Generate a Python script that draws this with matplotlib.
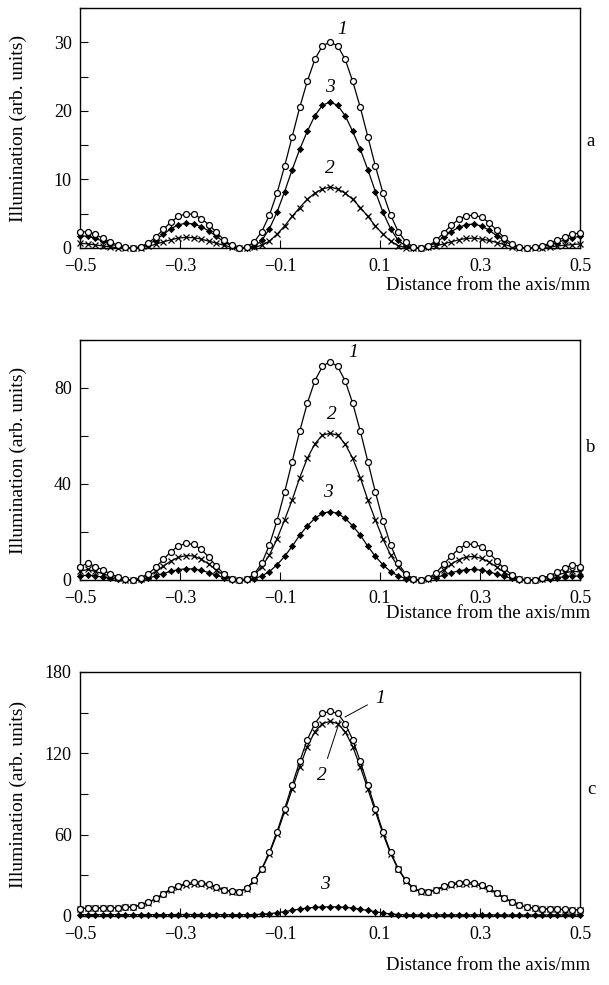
"""Script to plot the illumination profiles across the beam (panels a, b, c)."""

import matplotlib
matplotlib.use("Agg")
import matplotlib.pyplot as plt
import numpy as np
from matplotlib.ticker import MultipleLocator

# Sampling positions across the beam (mm), 67 equally spaced points.
DISTANCE = np.linspace(-0.5, 0.5, 67)

X_TICKS = [-0.5, -0.3, -0.1, 0.1, 0.3, 0.5]

# Panel a.
A_CURVE_1 = [2.3, 2.4, 2.0, 1.4, 0.9, 0.4, 0.1, 0.0, 0.2, 0.7, 1.6, 2.7, 3.8, 4.6, 5.0, 4.9, 4.3,
             3.4, 2.3, 1.2, 0.4, 0.0, 0.15, 0.9, 2.4, 4.8, 8.0, 11.9, 16.2, 20.5, 24.3, 27.5, 29.5,
             30.0, 29.5, 27.5, 24.3, 20.5, 16.2, 11.9, 8.0, 4.8, 2.4, 0.9, 0.15, 0.0, 0.3, 1.1, 2.2,
             3.3, 4.2, 4.7, 4.8, 4.5, 3.7, 2.6, 1.5, 0.6, 0.15, 0.0, 0.1, 0.3, 0.7, 1.1, 1.6, 2.0, 2.2]
A_CURVE_2 = [0.7, 0.6, 0.45, 0.3, 0.15, 0.05, 0.0, 0.0, 0.05, 0.25, 0.55, 0.9, 1.2, 1.45, 1.55, 1.5,
             1.3, 1.0, 0.7, 0.4, 0.1, 0.0, 0.0, 0.1, 0.4, 1.0, 2.0, 3.2, 4.6, 5.9, 7.1, 8.0, 8.6,
             8.9, 8.6, 8.0, 7.1, 5.9, 4.6, 3.2, 2.0, 1.0, 0.35, 0.05, 0.0, 0.0, 0.1, 0.3, 0.6, 0.9,
             1.2, 1.4, 1.45, 1.3, 1.1, 0.8, 0.5, 0.2, 0.05, 0.0, 0.0, 0.05, 0.15, 0.3, 0.4, 0.5, 0.6]
A_CURVE_3 = [1.8, 1.7, 1.4, 1.0, 0.6, 0.3, 0.1, 0.0, 0.1, 0.5, 1.2, 2.0, 2.8, 3.4, 3.6, 3.5, 3.1,
             2.5, 1.7, 0.9, 0.3, 0.0, 0.0, 0.3, 1.1, 2.8, 5.2, 8.2, 11.4, 14.4, 17.0, 19.3, 20.8,
             21.3, 20.8, 19.3, 17.0, 14.4, 11.4, 8.2, 5.2, 2.8, 1.1, 0.3, 0.0, 0.0, 0.2, 0.8, 1.6,
             2.4, 3.0, 3.4, 3.5, 3.2, 2.6, 1.8, 1.1, 0.4, 0.1, 0.0, 0.1, 0.2, 0.5, 0.8, 1.2, 1.5, 1.7]

# Panel b.
B_CURVE_1 = [5.5, 7.0, 5.6, 4.2, 2.6, 1.2, 0.3, 0.0, 0.8, 2.6, 5.3, 8.6, 11.8, 14.2, 15.3, 14.8,
             12.8, 9.5, 5.8, 2.5, 0.6, 0.0, 0.4, 2.5, 7.0, 14.6, 24.6, 36.5, 49.3, 62.0, 73.6, 83.0,
             89.0, 91.0, 89.0, 83.0, 73.6, 62.0, 49.3, 36.5, 24.6, 14.6, 7.0, 2.5, 0.4, 0.0, 0.8,
             3.0, 6.5, 10.0, 13.0, 14.8, 15.0, 13.8, 11.3, 8.0, 4.8, 2.2, 0.6, 0.0, 0.2, 0.8, 1.8,
             3.2, 5.0, 6.4, 5.6]
B_CURVE_2 = [3.6, 4.4, 3.6, 2.6, 1.6, 0.8, 0.2, 0.0, 0.5, 1.7, 3.6, 5.8, 7.9, 9.4, 10.2, 10.0, 8.7,
             6.6, 4.2, 1.9, 0.4, 0.0, 0.4, 2.0, 5.6, 10.4, 17.0, 25.0, 33.3, 42.6, 50.7, 56.7, 60.4,
             61.1, 60.4, 56.7, 50.7, 42.6, 33.3, 25.0, 17.0, 10.4, 5.6, 2.0, 0.4, 0.0, 0.6, 2.0,
             4.3, 6.6, 8.5, 9.6, 9.8, 9.0, 7.5, 5.4, 3.2, 1.5, 0.4, 0.0, 0.1, 0.5, 1.2, 2.0, 3.0,
             3.6, 3.4]
B_CURVE_3 = [1.7, 2.0, 1.7, 1.2, 0.7, 0.3, 0.1, 0.0, 0.2, 0.8, 1.7, 2.7, 3.6, 4.3, 4.7, 4.6, 4.0,
             3.1, 2.0, 0.9, 0.2, 0.0, 0.1, 0.6, 1.7, 3.5, 6.3, 9.8, 14.0, 18.7, 22.5, 25.7, 27.8,
             28.5, 27.8, 25.7, 22.5, 18.7, 14.0, 9.8, 6.3, 3.5, 1.7, 0.6, 0.1, 0.0, 0.3, 1.0, 2.0,
             3.0, 3.8, 4.3, 4.4, 4.1, 3.4, 2.5, 1.5, 0.7, 0.2, 0.0, 0.1, 0.3, 0.6, 1.0, 1.4, 1.7, 1.6]

# Panel c.
C_CURVE_1 = [5.5, 5.8, 6.0, 6.0, 6.0, 6.2, 6.5, 7.0, 8.0, 10.0, 13.0, 16.5, 20.0, 22.5, 24.0, 24.8,
             24.7, 23.5, 21.5, 19.5, 18.2, 18.0, 20.5, 26.5, 35.0, 47.0, 62.0, 79.0, 96.5, 114.0,
             130.0, 142.0, 149.5, 151.0, 149.5, 142.0, 130.0, 114.0, 96.5, 79.0, 62.0, 47.0, 35.0,
             26.5, 20.5, 18.2, 18.0, 19.5, 22.0, 23.8, 24.7, 24.9, 24.5, 23.0, 20.5, 17.0, 13.5,
             10.5, 8.0, 6.5, 5.8, 5.4, 5.2, 5.0, 4.8, 4.6, 4.5]
C_CURVE_2 = [5.4, 5.7, 5.9, 5.9, 5.9, 6.1, 6.4, 6.9, 7.8, 9.7, 12.6, 15.9, 19.3, 21.6, 23.0, 23.7,
             23.6, 22.5, 20.7, 19.0, 18.0, 17.8, 20.2, 26.0, 34.5, 46.0, 60.5, 77.0, 93.5, 110.0,
             125.0, 136.0, 142.0, 143.5, 142.0, 136.0, 125.0, 110.0, 93.5, 77.0, 60.5, 46.0, 34.5,
             26.0, 20.3, 18.0, 17.8, 19.0, 21.2, 22.8, 23.6, 23.8, 23.4, 22.0, 19.8, 16.6, 13.2,
             10.3, 7.9, 6.4, 5.7, 5.3, 5.1, 4.9, 4.7, 4.5, 4.4]
C_CURVE_3 = [1.0, 1.0, 1.0, 1.0, 1.0, 1.0, 1.0, 1.0, 1.0, 1.0, 1.0, 1.0, 1.0, 1.1, 1.1, 1.1, 1.1,
             1.1, 1.1, 1.0, 1.0, 1.0, 1.0, 1.1, 1.3, 1.7, 2.4, 3.2, 4.2, 5.1, 5.9, 6.4, 6.7,
             6.8, 6.7, 6.4, 5.8, 5.0, 4.1, 3.1, 2.2, 1.5, 1.1, 0.9, 0.8, 0.8, 0.8, 0.8, 0.9, 0.9,
             0.9, 0.9, 0.9, 0.9, 0.9, 0.8, 0.8, 0.8, 0.8, 0.8, 0.8, 0.8, 0.8, 0.8, 0.8, 0.8, 0.8]

FIG_W, FIG_H = 609, 985
FONT = "Liberation Serif"

# Marker style of each curve number.
STYLES = {
    1: dict(marker="o", ms=4.3, mfc="white", mec="black", mew=0.9),
    2: dict(marker="x", ms=4.6, mec="black", mew=0.9),
    3: dict(marker="D", ms=3.2, mfc="black", mec="black", mew=0.5),
}


def px_axes(left, top, right, bottom):
    """Convert a pixel box (origin top-left) into a figure-fraction rectangle."""
    return [left / FIG_W, 1 - bottom / FIG_H, (right - left) / FIG_W, (bottom - top) / FIG_H]


def plot_panel(fig, box, curves, ymax, ymajor, letter, letter_y, labels, xlabel_dy):
    """Draw one panel with its three curves and decorations."""
    ax = fig.add_axes(px_axes(*box))

    # Draw curve 3 first so the open circles of curve 1 stay on top.
    for num in (3, 2, 1):
        ax.plot(DISTANCE, curves[num], color="black", lw=0.9, clip_on=False,
                zorder=2 + (3 - num), **STYLES[num])

    ax.set_xlim(-0.5, 0.5)
    ax.set_ylim(0, ymax)
    ax.set_xticks(X_TICKS)
    ax.yaxis.set_major_locator(MultipleLocator(ymajor))
    ax.yaxis.set_minor_locator(MultipleLocator(ymajor / 2))
    ax.tick_params(which="both", direction="in", length=6, width=0.8,
                   labelsize=13, top=False, right=False)
    ax.tick_params(axis="x", pad=7.5)
    ax.tick_params(axis="y", pad=6)
    for lab in ax.get_xticklabels() + ax.get_yticklabels():
        lab.set_fontfamily(FONT)
    for spine in ax.spines.values():
        spine.set_linewidth(1.0)

    ax.set_ylabel("Illumination (arb. units)", fontsize=14, family=FONT, va="center")
    ax.yaxis.set_label_coords(-62 / 500, 0.5)

    # Axis title sits under the tick labels, flush right.
    height = box[3] - box[1]
    ax.text(1.02, -xlabel_dy / height, "Distance from the axis/mm", transform=ax.transAxes,
            ha="right", va="center", fontsize=13.5, family=FONT)

    fig.text(591 / FIG_W, 1 - letter_y / FIG_H, letter, ha="center", va="center",
             fontsize=13.5, family=FONT)

    for text, pos, target in labels:
        if target is None:
            ax.text(pos[0], pos[1], text, ha="center", va="center", fontsize=14,
                    family=FONT, style="italic")
        else:
            ax.annotate(text, xy=target, xytext=pos, ha="center", va="center", fontsize=14,
                        family=FONT, style="italic",
                        arrowprops=dict(arrowstyle="-", lw=0.7, color="black",
                                        shrinkA=4, shrinkB=0))
    return ax


def main():
    fig = plt.figure(figsize=(FIG_W / 100, FIG_H / 100), dpi=100)

    plot_panel(fig, (80, 8, 580, 248),
               {1: A_CURVE_1, 2: A_CURVE_2, 3: A_CURVE_3},
               ymax=35, ymajor=10, letter="a", letter_y=142, xlabel_dy=38,
               labels=[("1", (0.024, 31.8), None),
                       ("3", (0.0, 23.4), None),
                       ("2", (0.0, 11.6), None)])

    plot_panel(fig, (80, 340, 580, 580),
               {1: B_CURVE_1, 2: B_CURVE_2, 3: B_CURVE_3},
               ymax=100, ymajor=40, letter="b", letter_y=447, xlabel_dy=34,
               labels=[("1", (0.046, 94.6), None),
                       ("2", (0.004, 68.8), None),
                       ("3", (-0.004, 36.3), None)])

    plot_panel(fig, (80, 672, 580, 916),
               {1: C_CURVE_1, 2: C_CURVE_2, 3: C_CURVE_3},
               ymax=180, ymajor=60, letter="c", letter_y=790, xlabel_dy=49,
               labels=[("1", (0.1, 160.8), (0.03, 146.8)),
                       ("2", (-0.016, 104.0), (0.02, 144.5)),
                       ("3", (-0.01, 22.9), None)])

    fig.savefig("out.png", dpi=100)


if __name__ == '__main__':
    main()
